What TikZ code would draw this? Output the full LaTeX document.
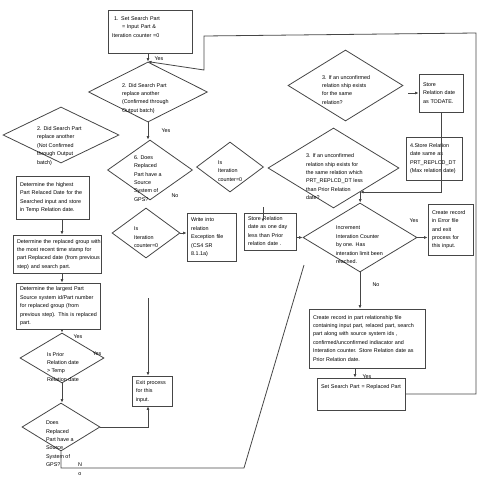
\documentclass[tikz,border=0pt]{standalone}
\usepackage{fontspec}
\setmainfont{Liberation Sans}
\usepackage{tikz}
\usetikzlibrary{arrows.meta,calc,positioning,shapes.geometric}
\definecolor{linegray}{RGB}{70,70,70}
\newcommand{\flowfont}{\fontsize{5.4}{8.4}\selectfont}
\newcommand{\txtlines}[1]{\begin{tabular}{@{}l@{}}#1\end{tabular}}
\newcommand{\dtxt}[3]{\smash{\makebox[0pt][l]{\hspace*{#1}\raisebox{#2}{\txtlines{#3}}}}}

\begin{document}
\begin{tikzpicture}[x=1pt,y=-1pt,
  box/.style={draw=linegray, line width=0.8pt, inner xsep=4pt, inner ysep=0pt, align=left, font=\flowfont},
  dec/.style={draw=linegray, line width=0.8pt, diamond, inner sep=0pt, font=\flowfont},
  arr/.style={draw=linegray, line width=0.8pt, -{Latex[length=3.5pt,width=3pt]}},
  wire/.style={draw=linegray, line width=0.8pt},
  tag/.style={font=\flowfont, inner sep=0pt}]
  \useasboundingbox (0,0) rectangle (480,480);
  % top of the flow
  \node[box, text width=76pt, minimum height=43pt, text depth=20pt] (set) at (150,31.5) {\txtlines{\hspace*{2pt}1. Set Search Part\\\hspace*{10pt}= Input Part \&\\Iteration counter =0}};
  \node[dec, minimum width=119pt, minimum height=60pt] (conf) at (148,92) {\dtxt{-26pt}{-7.3pt}{2. Did Search Part\\replace another\\(Confirmed through\\Output batch)}};
  \node[dec, minimum width=116pt, minimum height=56pt] (notconf) at (61,135) {\dtxt{-24pt}{-11.8pt}{2. Did Search Part\\replace another\\(Not Confirmed\\through Output\\batch)}};
  \node[dec, minimum width=85pt, minimum height=60pt] (gps1) at (150,170) {\dtxt{-16pt}{-9.8pt}{6. Does\\Replaced\\Part have a\\Source\\System of\\GPS?}};
  \node[dec, minimum width=67pt, minimum height=50pt] (iter1) at (230,167) {\dtxt{-12pt}{-5.3pt}{Is\\Iteration\\counter=0}};
  \node[dec, minimum width=68pt, minimum height=50pt] (iter2) at (146,233) {\dtxt{-12pt}{-5.8pt}{Is\\Iteration\\counter=0}};
  \node[box, text width=41pt, minimum height=48pt] (except) at (211.5,237) {\txtlines{Write into\\relation\\Exception file\\(CS4 SR\\8.1.1a)}};
  \node[box, text width=44pt, minimum height=37pt] (oneday) at (270,231.5) {\txtlines{Store Relation\\date as one day\\less than Prior\\relation date .}};
  % right part
  \node[dec, minimum width=115pt, minimum height=71pt] (unconf1) at (345.5,85.5) {\dtxt{-23.5pt}{-5.8pt}{3. If an unconfirmed\\relation ship exists\\for the same\\relation?}};
  \node[box, text width=36pt, minimum height=38pt] (todate) at (441,93) {\txtlines{Store\\Relation date\\as TODATE.}};
  \node[box, text width=48pt, minimum height=43pt] (maxdate) at (434,158.5) {\txtlines{4.Store Relation\\date same as\\PRT\_REPLCD\_DT\\(Max relation date)}};
  \node[dec, minimum width=131pt, minimum height=80pt] (unconf2) at (333.5,168) {\dtxt{-27.5pt}{-10.3pt}{3. If an unconfirmed\\relation ship exists for\\the same relation which\\PRT\_REPLCD\_DT less\\than Prior Relation\\date?}};
  \node[dec, minimum width=114pt, minimum height=69pt] (limit) at (360,237.5) {\dtxt{-24pt}{-8.8pt}{Increment\\Interation Counter\\by one. Has\\interation limit been\\reached.}};
  \node[box, text width=37pt, minimum height=51pt] (errfile) at (450.5,229.5) {\txtlines{Create record\\in Error file\\and exit\\process for\\this input.}};
  \node[box, text width=108pt, minimum height=59pt] (relfile) at (367,338.5) {\txtlines{Create record in part relationship file\\containing input part, relaced part, search\\part  along with source system ids ,\\confirmed/unconfirmed indiacator and\\Interation counter. Store Relation date as\\Prior Relation date.}};
  \node[box, text width=80pt, minimum height=32pt, text depth=17pt] (setrep) at (361,394) {\txtlines{Set Search Part = Replaced Part}};
  % left column
  \node[box, text width=65pt, minimum height=43pt] (highest) at (52.5,197.5) {\txtlines{Determine the highest\\Part Relaced Date for the\\Searched input and store\\in Temp Relation date.}};
  \node[box, text width=80pt, minimum height=38pt] (group) at (57,254) {\txtlines{Determine the replaced group with\\the most recent time stamp for\\part Replaced date (from previous\\step) and search part.}};
  \node[box, text width=76pt, minimum height=46pt] (largest) at (58,306) {\txtlines{Determine the largest Part\\Source system id/Part number\\for replaced group  (from\\previous step). This is replaced\\part.}};
  \node[dec, minimum width=84pt, minimum height=50pt] (prior) at (62,358) {\dtxt{-15pt}{-10.3pt}{Is Prior\\Relation date\\> Temp\\Relation date}};
  \node[dec, minimum width=78pt, minimum height=48pt] (gps2) at (61,427) {\dtxt{-15pt}{-18.3pt}{Does\\Replaced\\Part have a\\Source\\System of\\GPS?}};
  \node[box, text width=32pt, minimum height=30pt] (exit) at (152,391) {\txtlines{Exit process\\for this\\input.}};
  % labels
  \node[tag] (yes1) at (159,59) {Yes};
  \node[tag] (yes2) at (166,131) {Yes};
  \node[tag] (no1) at (175,196) {No};
  \node[tag] (yes3) at (414,221) {Yes};
  \node[tag] (no2) at (376,285) {No};
  \node[tag] (yes4) at (367,377) {Yes};
  \node[tag] (yes5) at (78,337) {Yes};
  \node[tag] (yes6) at (97,354) {Yes};
  \node[tag, align=center] (no3) at (80,469) {N\\o};
  % connectors
  \coordinate (loopR) at (476,33);
  \coordinate (loopL) at (204,36);
  \coordinate (loopD) at (204,70);
  \coordinate (fromtop) at (263,207);
  \coordinate (exittop) at (148,298);
  \coordinate (noend) at (304,265);
  \draw[arr] (set.south -| conf.north) -- (conf.north);
  \draw[arr] (setrep.east) -- (setrep.east -| loopR) -- (loopR) -- (loopL) -- (loopD) -- (conf.north);
  \draw[arr] (conf.south) -- (conf.south |- gps1.north);
  \draw[arr] (iter2.east) -- (iter2.east -| except.west);
  \draw[arr] (fromtop) -- ++(0,15);
  \draw[arr] (oneday.east |- limit.west) -- (limit.west);
  \draw[arr] ([xshift=5pt]unconf1.east |- todate.west) -- (todate.west);
  \draw[arr] (todate.south) |- (unconf2.-42);
  \draw[arr] (unconf2.-42) -- (unconf2.-42 |- limit.north);
  \draw[arr] (limit.east) -- (limit.east -| errfile.west);
  \draw[arr] (limit.south) -- (limit.south |- relfile.north);
  \draw[arr] ([xshift=-12pt]relfile.south) -- ([xshift=-12pt]relfile.south |- setrep.north);
  \draw[arr] (highest.south -| prior.north) -- (group.north -| prior.north);
  \draw[arr] (group.south -| prior.north) -- (largest.north -| prior.north);
  \draw[arr] (largest.south -| prior.north) -- (prior.north);
  \draw[arr] (prior.south) -- (prior.south |- gps2.north);
  \draw[arr] (gps2.east) -| ([xshift=-4pt]exit.south);
  \draw[arr] (exittop) -- (exittop |- exit.north);
  \draw[wire] (gps2.south) -- (61,468) -- (244,468) -- (noend);
\end{tikzpicture}
\end{document}
